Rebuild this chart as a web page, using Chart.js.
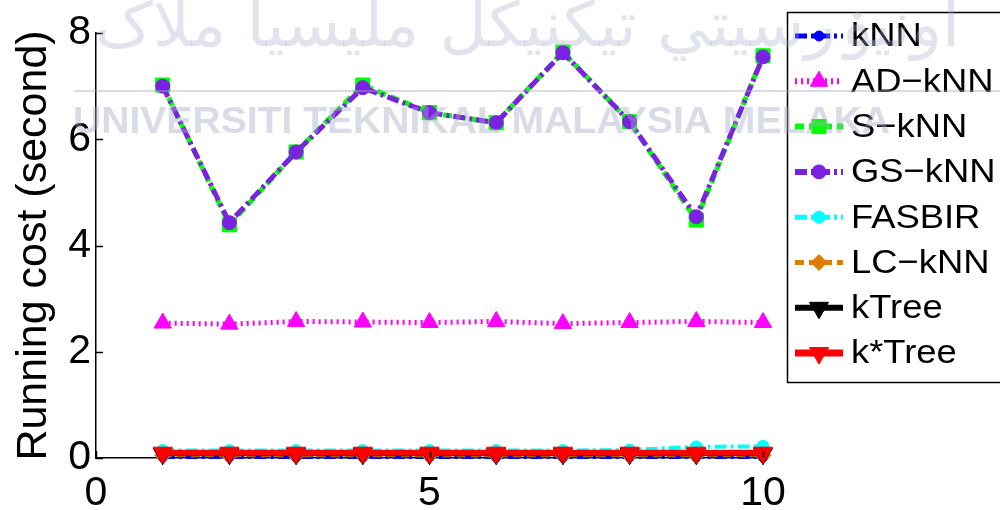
<!DOCTYPE html>
<html>
<head>
<meta charset="utf-8">
<title>Running cost</title>
<script src="https://cdn.jsdelivr.net/npm/chart.js@4.4.1/dist/chart.umd.min.js"></script>
<style>
  html, body { margin: 0; padding: 0; background: #ffffff; }
  #wrap { width: 1000px; height: 510px; position: relative; }
</style>
</head>
<body>
<div id="wrap"><canvas id="c" width="1000" height="510"></canvas></div>
<script>
// x positions of the runs
const xValues = [1, 2, 3, 4, 5, 6, 7, 8, 9, 10];

// running cost (second) per method
const knn       = [0.02, 0.02, 0.02, 0.02, 0.02, 0.02, 0.02, 0.02, 0.02, 0.02];
const adKnn     = [2.54, 2.52, 2.57, 2.56, 2.55, 2.57, 2.53, 2.55, 2.57, 2.55];
const sKnn      = [7.02, 4.39, 5.76, 7.02, 6.50, 6.31, 7.64, 6.33, 4.48, 7.57];
const gsKnn     = [7.00, 4.43, 5.76, 6.97, 6.50, 6.31, 7.63, 6.33, 4.54, 7.55];
const fasbir    = [0.14, 0.14, 0.14, 0.14, 0.14, 0.14, 0.14, 0.15, 0.21, 0.22];
const lcKnn     = [0.05, 0.05, 0.05, 0.05, 0.05, 0.05, 0.05, 0.05, 0.05, 0.05];
const kTree     = [0.08, 0.08, 0.08, 0.08, 0.08, 0.08, 0.08, 0.08, 0.08, 0.08];
const kStarTree = [0.10, 0.10, 0.10, 0.10, 0.10, 0.10, 0.10, 0.10, 0.10, 0.10];

const seriesNames = ['kNN', 'AD\u2212kNN', 'S\u2212kNN', 'GS\u2212kNN', 'FASBIR', 'LC\u2212kNN', 'kTree', 'k*Tree'];

// axis ticks
const xTicks = [0, 5, 10];
const yTicks = [0, 2, 4, 6, 8];

const FONT = "'Liberation Sans', Arial, Helvetica, sans-serif";

function pts(arr) { return xValues.map((x, i) => ({ x: x, y: arr[i] })); }

const styles = [
  { data: knn,       color: '#0000ff', dash: [12, 4, 3, 4], width: 4, point: 'circle',   r: 5,  rot: 0 },
  { data: adKnn,     color: '#ff00ff', dash: [2, 4],        width: 5, point: 'triangle', r: 10, rot: 0 },
  { data: sKnn,      color: '#00ff00', dash: [9, 5],        width: 5, point: 'rect',     r: 10, rot: 0 },
  { data: gsKnn,     color: '#7b22e2', dash: [12, 4, 3, 4], width: 5, point: 'circle',   r: 7,  rot: 0 },
  { data: fasbir,    color: '#00ffff', dash: [12, 4, 3, 4], width: 4, point: 'circle',   r: 6,  rot: 0 },
  { data: lcKnn,     color: '#dc7d05', dash: [9, 5],        width: 4, point: 'rectRot',  r: 8,  rot: 0 },
  { data: kTree,     color: '#000000', dash: [],            width: 5, point: 'triangle', r: 11, rot: 180 },
  { data: kStarTree, color: '#ff0000', dash: [],            width: 6, point: 'triangle', r: 11, rot: 180 }
];

const datasets = styles.map((s, i) => ({
  label: seriesNames[i],
  data: pts(s.data),
  borderColor: s.color,
  backgroundColor: s.color,
  borderWidth: s.width,
  borderDash: s.dash,
  pointStyle: s.point,
  pointRadius: s.r,
  pointRotation: s.rot,
  pointBackgroundColor: s.color,
  pointBorderColor: s.color,
  pointBorderWidth: 1,
  tension: 0,
  fill: false,
  clip: false,
  order: styles.length - i
}));

// inward MATLAB-style tick marks
const inwardTicks = {
  id: 'inwardTicks',
  afterDatasetsDraw(chart) {
    const ctx = chart.ctx, xs = chart.scales.x, ys = chart.scales.y;
    const a = chart.chartArea;
    ctx.save();
    ctx.strokeStyle = '#000';
    ctx.lineWidth = 1.5;
    ctx.beginPath();
    xTicks.forEach(v => {
      const px = Math.round(xs.getPixelForValue(v)) + 0.5;
      ctx.moveTo(px, a.bottom); ctx.lineTo(px, a.bottom - 7);
    });
    yTicks.forEach(v => {
      const py = Math.round(ys.getPixelForValue(v)) + 0.5;
      ctx.moveTo(a.left, py); ctx.lineTo(a.left + 7, py);
    });
    ctx.stroke();
    ctx.restore();
  }
};

function drawMarker(ctx, style, radius, rot, x, y) {
  if (Chart.helpers && Chart.helpers.drawPoint) {
    Chart.helpers.drawPoint(ctx, { pointStyle: style, radius: radius, rotation: rot, borderWidth: 1 }, x, y);
  } else {
    ctx.beginPath(); ctx.arc(x, y, radius, 0, Math.PI * 2); ctx.fill(); ctx.stroke();
  }
}

// boxed legend drawn over the right part of the figure
const boxLegend = {
  id: 'boxLegend',
  afterDraw(chart) {
    const ctx = chart.ctx;
    ctx.save();
    ctx.fillStyle = '#ffffff';
    ctx.fillRect(787, 12, 230, 371);
    ctx.strokeStyle = '#000';
    ctx.lineWidth = 1.5;
    ctx.strokeRect(787.5, 12.5, 230, 370);
    chart.data.datasets.forEach((ds, i) => {
      const y = 36 + i * 45.3;
      ctx.setLineDash(ds.borderDash || []);
      ctx.strokeStyle = ds.borderColor;
      ctx.lineWidth = ds.borderWidth + 1;
      ctx.beginPath();
      ctx.moveTo(795, y); ctx.lineTo(843, y);
      ctx.stroke();
      ctx.setLineDash([]);
      ctx.fillStyle = ds.pointBackgroundColor;
      ctx.strokeStyle = ds.pointBorderColor;
      ctx.lineWidth = 1;
      drawMarker(ctx, ds.pointStyle, ds.pointRadius, ds.pointRotation, 819, y);
      ctx.save();
      ctx.translate(851, y);
      ctx.scale(1.07, 1);
      ctx.fillStyle = '#000';
      ctx.font = '34px ' + FONT;
      ctx.textBaseline = 'middle';
      ctx.textAlign = 'left';
      ctx.fillText(ds.label, 0, 1);
      ctx.restore();
    });
    ctx.restore();
  }
};

// faint university watermark printed across the figure
const watermark = {
  id: 'watermark',
  afterDraw(chart) {
    const ctx = chart.ctx;
    ctx.save();
    ctx.globalAlpha = 0.32;
    ctx.fillStyle = 'rgb(165,172,198)';
    ctx.strokeStyle = 'rgb(165,172,198)';
    // Jawi line
    const jawi = '\u0627\u0648\u0646\u064A\u06CF\u0631\u0633\u064A\u062A\u064A \u062A\u064A\u0643\u0646\u064A\u0643\u0644 \u0645\u0644\u064A\u0633\u064A\u0627 \u0645\u0644\u0627\u06A9';
    ctx.font = '62px "DejaVu Sans", sans-serif';
    ctx.textBaseline = 'alphabetic';
    ctx.textAlign = 'left';
    let w = ctx.measureText(jawi).width;
    ctx.save();
    ctx.translate(95, 46);
    ctx.scale(865 / w, 1);
    ctx.fillText(jawi, 0, 0);
    ctx.restore();
    // rule
    ctx.globalAlpha = 0.42;
    ctx.lineWidth = 2;
    ctx.beginPath();
    ctx.moveTo(74, 91); ctx.lineTo(1000, 91);
    ctx.stroke();
    // Latin line
    const latin = 'UNIVERSITI TEKNIKAL MALAYSIA MELAKA';
    ctx.font = 'bold 36px ' + FONT;
    w = ctx.measureText(latin).width;
    ctx.save();
    ctx.translate(73, 133);
    ctx.scale(817 / w, 1);
    ctx.fillText(latin, 0, 0);
    ctx.restore();
    ctx.restore();
  }
};

new Chart(document.getElementById('c'), {
  type: 'line',
  data: { datasets: datasets },
  options: {
    responsive: false,
    animation: false,
    devicePixelRatio: 1,
    layout: { padding: { left: 0, top: 33, right: 237, bottom: 0 } },
    plugins: { legend: { display: false }, tooltip: { enabled: false } },
    scales: {
      x: {
        type: 'linear',
        min: 0, max: 10,
        afterBuildTicks: s => { s.ticks = xTicks.map(v => ({ value: v })); },
        afterFit: s => { s.height = 52; },
        grid: { display: false, drawTicks: false },
        border: { display: true, color: '#000', width: 1.5 },
        ticks: { color: '#000', padding: 11, font: { family: FONT, size: 41 } }
      },
      y: {
        type: 'linear',
        min: 0, max: 8,
        afterBuildTicks: s => { s.ticks = yTicks.map(v => ({ value: v })); },
        afterFit: s => { s.width = 96; },
        grid: { display: false, drawTicks: false },
        border: { display: true, color: '#000', width: 1.5 },
        ticks: { color: '#000', padding: 5, font: { family: FONT, size: 41 } },
        title: {
          display: true,
          text: 'Running cost (second)',
          color: '#000',
          font: { family: FONT, size: 43 },
          padding: { top: 8, bottom: 0 }
        }
      }
    }
  },
  plugins: [inwardTicks, boxLegend, watermark]
});
</script>
</body>
</html>
